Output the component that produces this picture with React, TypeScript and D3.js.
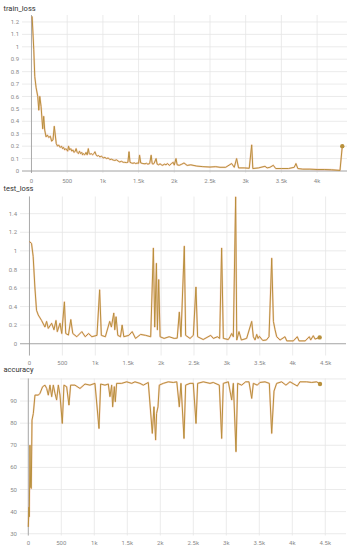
import React from "react";
import * as d3 from "d3";

// train_loss
const trainSteps = [
  9, 32, 46, 65, 88, 102, 116, 134, 157, 171, 185, 204, 222, 241, 264, 282, 301, 319, 347, 365, 380, 403,
  420, 435, 449, 465, 480, 495, 507, 519, 535, 550, 565, 580, 597, 612, 625, 640, 657, 672, 688, 704, 715,
  727, 745, 764, 780, 796, 808, 819, 838, 856, 872, 889, 905, 921, 940, 958, 980, 1005, 1028, 1051, 1075,
  1097, 1120, 1145, 1167, 1190, 1213, 1236, 1260, 1285, 1306, 1330, 1350, 1366, 1380, 1398, 1420, 1440,
  1458, 1480, 1500, 1514, 1530, 1560, 1590, 1610, 1630, 1655, 1676, 1690, 1705, 1720, 1745, 1760, 1782,
  1800, 1820, 1838, 1860, 1884, 1905, 1931, 1960, 1985, 2000, 2024, 2040, 2070, 2105, 2136, 2180, 2230,
  2313, 2400, 2500, 2580, 2640, 2720, 2803, 2840, 2873, 2900, 2980, 3050, 3084, 3100, 3180, 3270, 3300,
  3340, 3387, 3420, 3500, 3600, 3680, 3704, 3730, 3800, 3900, 4000, 4100, 4200, 4321, 4353,
];
const trainLoss = [
  1.245, 0.976, 0.76, 0.67, 0.6, 0.49, 0.6, 0.52, 0.34, 0.44, 0.33, 0.275, 0.29, 0.27, 0.28, 0.24, 0.25,
  0.36, 0.22, 0.2, 0.21, 0.19, 0.2, 0.18, 0.19, 0.17, 0.18, 0.17, 0.16, 0.2, 0.17, 0.18, 0.16, 0.17, 0.15,
  0.16, 0.18, 0.15, 0.14, 0.16, 0.14, 0.15, 0.13, 0.14, 0.13, 0.15, 0.13, 0.18, 0.14, 0.135, 0.14, 0.13,
  0.14, 0.155, 0.13, 0.12, 0.125, 0.113, 0.12, 0.105, 0.11, 0.1, 0.105, 0.092, 0.095, 0.088, 0.085, 0.09,
  0.08, 0.073, 0.078, 0.07, 0.07, 0.068, 0.07, 0.155, 0.07, 0.065, 0.062, 0.066, 0.06, 0.064, 0.062, 0.127,
  0.065, 0.06, 0.058, 0.062, 0.055, 0.06, 0.127, 0.06, 0.055, 0.065, 0.1, 0.055, 0.05, 0.058, 0.05, 0.046,
  0.055, 0.05, 0.06, 0.045, 0.06, 0.07, 0.048, 0.1, 0.05, 0.046, 0.055, 0.065, 0.045, 0.05, 0.04, 0.035,
  0.032, 0.035, 0.03, 0.03, 0.06, 0.03, 0.1, 0.025, 0.025, 0.022, 0.21, 0.02, 0.025, 0.038, 0.025, 0.03,
  0.046, 0.02, 0.02, 0.02, 0.03, 0.06, 0.02, 0.015, 0.015, 0.012, 0.012, 0.01, 0.005, 0.2,
];

// test_loss
const testSteps = [
  0, 31, 56, 82, 107, 133, 184, 235, 260, 286, 337, 372, 403, 423, 464, 490, 531, 551, 592, 628, 658, 719,
  796, 847, 898, 949, 1026, 1066, 1092, 1153, 1219, 1245, 1281, 1296, 1316, 1342, 1383, 1408, 1434, 1510,
  1561, 1612, 1689, 1765, 1842, 1883, 1903, 1929, 1944, 1964, 1985, 2046, 2122, 2199, 2245, 2277, 2302,
  2353, 2373, 2440, 2490, 2530, 2555, 2640, 2754, 2795, 2856, 2890, 2920, 2946, 3022, 3048, 3073, 3098,
  3133, 3150, 3184, 3220, 3300, 3377, 3402, 3428, 3453, 3474, 3494, 3545, 3600, 3640, 3681, 3707, 3732,
  3757, 3808, 3883, 3910, 4010, 4070, 4096, 4190, 4253, 4273, 4313, 4340, 4410,
];
const testLoss = [
  1.1, 1.08, 0.94, 0.61, 0.36, 0.31, 0.25, 0.18, 0.24, 0.165, 0.22, 0.15, 0.25, 0.13, 0.22, 0.11, 0.45,
  0.11, 0.093, 0.26, 0.11, 0.075, 0.13, 0.075, 0.11, 0.075, 0.09, 0.58, 0.09, 0.075, 0.24, 0.18, 0.33,
  0.15, 0.29, 0.09, 0.075, 0.2, 0.075, 0.09, 0.13, 0.057, 0.1, 0.09, 0.075, 1.03, 0.18, 0.865, 0.15, 0.69,
  0.075, 0.057, 0.075, 0.057, 0.06, 0.34, 0.075, 1.05, 0.09, 0.057, 0.09, 0.61, 0.075, 0.045, 0.09, 0.057,
  0.075, 0.057, 1.03, 0.057, 0.045, 0.075, 0.11, 0.075, 1.58, 0.04, 0.13, 0.04, 0.057, 0.24, 0.075, 0.04,
  0.1, 0.057, 0.08, 0.035, 0.04, 0.075, 0.92, 0.24, 0.15, 0.075, 0.04, 0.075, 0.03, 0.03, 0.075, 0.03,
  0.03, 0.075, 0.04, 0.086, 0.05, 0.068,
];

// accuracy
const accSteps = [
  0, 10, 15, 25, 35, 45, 56, 76, 101, 152, 177, 217, 253, 278, 303, 328, 354, 379, 404, 429, 455, 480, 515,
  540, 581, 616, 641, 707, 783, 859, 934, 1010, 1071, 1096, 1162, 1212, 1237, 1263, 1278, 1303, 1318, 1338,
  1414, 1490, 1566, 1616, 1692, 1742, 1818, 1879, 1904, 1929, 1944, 1965, 1985, 2045, 2121, 2197, 2250,
  2288, 2313, 2359, 2384, 2450, 2500, 2541, 2566, 2652, 2753, 2803, 2894, 2930, 2955, 3031, 3082, 3107,
  3147, 3172, 3233, 3293, 3344, 3385, 3410, 3470, 3510, 3586, 3652, 3688, 3723, 3763, 3838, 3904, 3965,
  4076, 4116, 4217, 4293, 4369, 4420,
];
const accuracy = [
  33.1, 42, 37.7, 70, 51, 50.5, 81.4, 84.4, 92.7, 92.7, 93.5, 96.5, 97.2, 95.7, 92.7, 97.2, 92, 97.2, 93.5,
  90.5, 97.2, 92.7, 79.9, 97.2, 96.5, 88.2, 97.2, 97.2, 95.7, 97.7, 97.2, 98, 77.6, 97.7, 97.2, 97.7, 92,
  97.2, 87.4, 96.5, 89.7, 98, 98, 98.7, 98, 98.7, 98, 97.2, 98.4, 75.4, 87.4, 72.4, 84.4, 87.4, 97.2, 98,
  98.7, 98.4, 98.7, 87.4, 98, 73.1, 97.2, 98, 98, 79.9, 98, 98.7, 98, 98.4, 97.2, 73.1, 98, 98.7, 90.5, 98,
  67.1, 98, 97.2, 98.7, 98.7, 91.2, 98, 97.2, 98.4, 98.7, 98, 75.4, 94.5, 98, 98.7, 97.2, 98.7, 96.8,
  98.7, 98.7, 98.4, 98.7, 97.7,
];

const trainYTicks = [0, 0.1, 0.2, 0.3, 0.4, 0.5, 0.6, 0.7, 0.8, 0.9, 1, 1.1, 1.2];
const testYTicks = [0, 0.2, 0.4, 0.6, 0.8, 1, 1.2, 1.4];
const accYTicks = [30, 40, 50, 60, 70, 80, 90, 100];
const stepTicks = [0, 500, 1000, 1500, 2000, 2500, 3000, 3500, 4000, 4500];

const FONT = "Roboto, 'Noto Sans', sans-serif";
const LINE = "#b8903c";

const fmtStep = (d) => (d >= 1000 ? d / 1000 + "k" : String(d));

const Panel = ({ title, titleY, steps, values, xDomain, yDomain, yTicks, hideTop, box, zeroLine }) => {
  const x = d3.scaleLinear().domain(xDomain).range([box.left, box.right]);
  const y = d3.scaleLinear().domain(yDomain).range([box.bottom, box.top]);
  const pts = steps.map((s, i) => [s, values[i]]);
  const line = d3
    .line()
    .x((d) => x(d[0]))
    .y((d) => y(d[1]));
  const xt = stepTicks.filter((t) => x(t) <= box.right);
  const last = pts[pts.length - 1];

  return (
    <g>
      <text x={3.5} y={titleY} fontSize={7.5} fill="#333" fontFamily={FONT}>
        {title}
      </text>
      {yTicks.map((t) => (
        <line key={"h" + t} x1={box.left} x2={box.right} y1={y(t)} y2={y(t)} stroke="#e6e6e6" strokeWidth={0.8} />
      ))}
      {xt.map((t) => (
        <line key={"v" + t} x1={x(t)} x2={x(t)} y1={box.top} y2={box.bottom} stroke="#e6e6e6" strokeWidth={0.8} />
      ))}
      <line x1={x(0)} x2={x(0)} y1={box.top} y2={box.bottom} stroke="#9a9a9a" strokeWidth={0.8} />
      {zeroLine && <line x1={box.left} x2={box.right} y1={y(0)} y2={y(0)} stroke="#9a9a9a" strokeWidth={0.8} />}
      {yTicks
        .filter((t) => !(hideTop && t === yTicks[yTicks.length - 1]))
        .map((t) => (
          <text key={"yl" + t} x={box.left - 3} y={y(t)} dy="0.35em" textAnchor="end" fontSize={6} fill="#8a8a8a" fontFamily={FONT}>
            {String(t)}
          </text>
        ))}
      {xt.map((t) => (
        <text key={"xl" + t} x={x(t)} y={box.bottom + 9.5} textAnchor="middle" fontSize={6} fill="#8a8a8a" fontFamily={FONT}>
          {fmtStep(t)}
        </text>
      ))}
      <path d={line(pts)} fill="none" stroke="#f07a4a" strokeOpacity={0.3} strokeWidth={1.8} strokeLinejoin="round" />
      <path d={line(pts)} fill="none" stroke={LINE} strokeWidth={1} strokeLinejoin="round" />
      <circle cx={x(last[0])} cy={y(last[1])} r={2.2} fill={LINE} />
    </g>
  );
};

export default function App() {
  return (
    <svg width={353} height={550} style={{ position: "absolute", left: 0, top: 0, background: "#fff" }}>
      <Panel
        title="train_loss"
        titleY={10.5}
        steps={trainSteps}
        values={trainLoss}
        xDomain={[-133, 4419]}
        yDomain={[-0.016, 1.256]}
        yTicks={trainYTicks}
        box={{ left: 22, right: 347, top: 15, bottom: 173 }}
        zeroLine
      />
      <Panel
        title="test_loss"
        titleY={190.5}
        steps={testSteps}
        values={testLoss}
        xDomain={[-144, 4810]}
        yDomain={[-0.127, 1.585]}
        yTicks={testYTicks}
        box={{ left: 20, right: 346, top: 196.5, bottom: 355.5 }}
        zeroLine
      />
      <Panel
        title="accuracy"
        titleY={371.5}
        steps={accSteps}
        values={accuracy}
        xDomain={[-126, 4814]}
        yDomain={[29.2, 100.2]}
        yTicks={accYTicks}
        hideTop
        box={{ left: 20, right: 346, top: 378.5, bottom: 535.5 }}
      />
    </svg>
  );
}
